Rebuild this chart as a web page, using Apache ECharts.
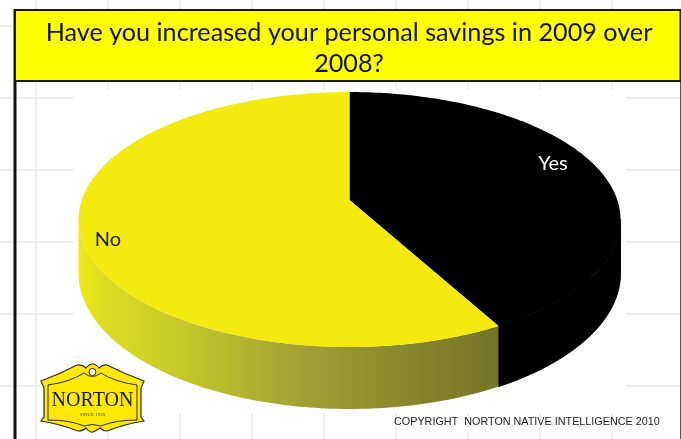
<!DOCTYPE html>
<html>
<head>
<meta charset="utf-8">
<title>Personal savings 2009 over 2008</title>
<style>
html,body{margin:0;padding:0;background:#fff;overflow:hidden}
#chart{width:681px;height:439px}
</style>
<script src="https://cdn.jsdelivr.net/npm/echarts@6/dist/echarts.min.js"></script>
</head>
<body>
<div id="chart"></div>
<script>
// Survey answers, in percent, clockwise from twelve o'clock.
const categories = ['Yes', 'No'];
const shares = [42, 58];
const sliceColors = ['#000000', '#f3eb10'];
const labelColors = ['#ffffff', '#1a1a1a'];
const question = 'Have you increased your personal savings in 2009 over\n2008?';
const copyright = 'COPYRIGHT  NORTON NATIVE INTELLIGENCE 2010';

// Tilted disc: the round pie seen through a simple perspective divide.
const disc = { cx: 349.5, cy: 200, rx: 267.8, ry: 124.5, k: 0.153, depth: 52.5 };
const labelSpots = { Yes: [553, 164], No: [108, 240] };
const total = shares.reduce((a, b) => a + b, 0);

function rimPoint(theta, drop) {
  const c = Math.cos(theta), s = 1 / (1 + disc.k * c);
  return [
    disc.cx + disc.rx * Math.sin(theta) * s,
    disc.cy - disc.ry * c * s + (drop ? disc.depth * s : 0)
  ];
}
function arc(from, to, drop) {
  const out = [], n = Math.max(2, Math.ceil((to - from) * 60));
  for (let i = 0; i <= n; i++) out.push(rimPoint(from + (to - from) * i / n, drop));
  return out;
}

const sideGradient = () => new echarts.graphic.LinearGradient(0, 0, 1, 0, [
  { offset: 0, color: '#eeea14' },
  { offset: 0.06, color: '#dcdd1e' },
  { offset: 0.22, color: '#c9cb28' },
  { offset: 0.5, color: '#a6a434' },
  { offset: 0.72, color: '#8e8c2e' },
  { offset: 1, color: '#747526' }
]);

function renderSlice(params, api) {
  const i = params.dataIndex;
  let before = 0;
  for (let j = 0; j < i; j++) before += shares[j];
  const a0 = before / total * Math.PI * 2;
  const a1 = (before + api.value(0)) / total * Math.PI * 2;
  const children = [];

  // The rim shows only between the disc's two widest points.
  const widest = Math.acos(-disc.k);
  const f0 = Math.max(a0, widest), f1 = Math.min(a1, Math.PI * 2 - widest);
  if (f1 > f0) {
    const black = i === 0;
    children.push({
      type: 'polygon',
      z2: 1,
      shape: { points: arc(f0, f1, false).concat(arc(f0, f1, true).reverse()) },
      style: { fill: black ? sliceColors[0] : sideGradient(), stroke: black ? sliceColors[0] : null, lineWidth: black ? 1 : 0 }
    });
  }
  children.push({
    type: 'polygon',
    z2: 2,
    shape: { points: [[disc.cx, disc.cy]].concat(arc(a0, a1, false)) },
    style: { fill: sliceColors[i] }
  });
  const name = categories[i];
  children.push({
    type: 'text',
    z2: 3,
    x: labelSpots[name][0],
    y: labelSpots[name][1],
    style: {
      text: name, fill: labelColors[i], font: '20px "Lato"',
      align: 'center', verticalAlign: 'middle'
    }
  });
  return { type: 'group', children };
}

// Faint ruled paper behind the chart.
const paper = [];
const rule = '#eeeeee';
for (let x = 36; x < 681; x += 72) {
  paper.push({ type: 'line', z: 0, shape: { x1: x, y1: 0, x2: x, y2: 439 }, style: { stroke: rule, lineWidth: 2 } });
}
for (let y = 26; y < 439; y += 72) {
  paper.push({ type: 'line', z: 0, shape: { x1: 0, y1: y, x2: 681, y2: y }, style: { stroke: rule, lineWidth: 2 } });
}

const overlay = [
  { type: 'rect', z: 1, shape: { x: 74, y: 90, width: 552, height: 323 }, style: { fill: '#ffffff' } },
  { type: 'rect', z: 1, shape: { x: 40, y: 364, width: 105, height: 68 }, style: { fill: '#ffffff' } },
  { type: 'line', z: 9, shape: { x1: 15, y1: 9, x2: 15, y2: 439 }, style: { stroke: '#111', lineWidth: 3 } },
  { type: 'line', z: 9, shape: { x1: 680.5, y1: 9, x2: 680.5, y2: 439 }, style: { stroke: '#555', lineWidth: 1 } },
  { type: 'rect', z: 9, shape: { x: 15, y: 10, width: 665.5, height: 71 }, style: { fill: '#ffff00', stroke: '#1c1c00', lineWidth: 2 } },
  { type: 'text', z: 10, x: 92.5, y: 401, style: { text: 'NORTON', fill: '#1c1a10', font: '20px "Liberation Serif"', align: 'center', verticalAlign: 'middle' } },
  { type: 'text', z: 10, x: 92.5, y: 415, style: { text: 'SINCE 1928', fill: '#4a4520', font: '5px "Liberation Serif"', align: 'center', verticalAlign: 'middle' } },
  { type: 'text', z: 10, x: 394, y: 422.5, style: { text: copyright, fill: '#222', font: '10.8px "Liberation Sans"', align: 'left', verticalAlign: 'middle' } }
];

const chart = echarts.init(document.getElementById('chart'), null, { renderer: 'canvas' });
chart.setOption({
  animation: false,
  backgroundColor: '#ffffff',
  title: {
    text: question,
    left: 344,
    top: 12,
    textAlign: 'center',
    z: 12,
    textStyle: { fontFamily: 'Lato', fontWeight: 'normal', fontSize: 25.2, lineHeight: 31, color: '#111' }
  },
  graphic: { elements: paper.concat(overlay) },
  series: [{
    type: 'custom',
    coordinateSystem: 'none',
    z: 5,
    silent: true,
    renderItem: renderSlice,
    data: categories.map((name, i) => ({ name, value: [shares[i]] }))
  }]
});

// Company plaque in the lower left corner.
const plaqueOuter = 'M86 368 Q82 364 77 365 Q60 374 41 381 L44 388 L44 417 L41 421 Q60 424 78 431 Q83 431 86 428 Q90 433 93 432 Q96 431 100 428 Q103 431 107 431 Q125 424 144 421 L141 417 L141 388 L144 381 Q125 374 107 365 Q103 364 99 368 Q96 364 92.5 364 Q89 364 86 368 Z';
const plaqueInner = 'M48 385 Q70 382 84 373 Q92 380 101 373 Q115 382 137 385 L137 420 Q115 420 101 426 Q92 423 84 426 Q70 420 48 420 Z';
const zr = chart.getZr();
zr.add(echarts.graphic.makePath(plaqueOuter, { z: 9, silent: true, style: { fill: '#ffe900', stroke: '#2a2a2a', lineWidth: 1.2 } }));
zr.add(echarts.graphic.makePath(plaqueInner, { z: 9, z2: 1, silent: true, style: { fill: 'none', stroke: '#2a2a2a', lineWidth: 1 } }));
zr.add(new echarts.graphic.Circle({ z: 9, z2: 2, silent: true, shape: { cx: 92.5, cy: 372, r: 3.5 }, style: { fill: '#ffffff', stroke: '#2a2a2a', lineWidth: 1 } }));
</script>
</body>
</html>
